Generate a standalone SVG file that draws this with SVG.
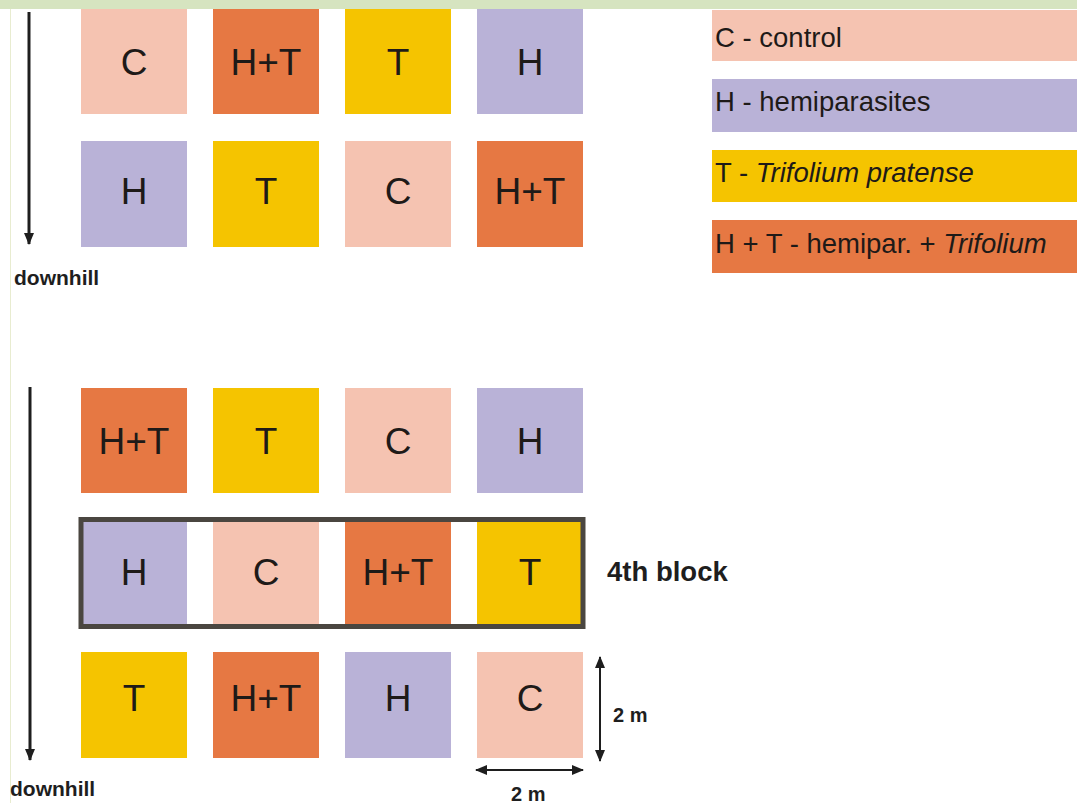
<svg xmlns="http://www.w3.org/2000/svg" width="1077" height="803" viewBox="0 0 1077 803">
<defs>
<style>
.c{fill:#f5c3b1}.h{fill:#b9b2d7}.t{fill:#f5c400}.ht{fill:#e67843}
.lbl{font-family:"Liberation Sans",Arial,sans-serif;font-size:37px;fill:#1e1a18;text-anchor:middle}
.leg{font-family:"Liberation Sans",Arial,sans-serif;font-size:27.5px;fill:#1e1a18}
.b{font-family:"Liberation Sans",Arial,sans-serif;font-weight:bold;fill:#1e1e1e}
.ln{stroke:#1e1e1e;stroke-width:3;fill:none}
</style>
<marker id="ah" viewBox="0 0 12 12" refX="11" refY="6" markerWidth="12" markerHeight="12" orient="auto-start-reverse" markerUnits="userSpaceOnUse">
<path d="M0,1 L12,6 L0,11 z" fill="#1e1e1e"/>
</marker>
</defs>
<rect width="1077" height="803" fill="#fff"/>
<rect x="0" y="0" width="1077" height="9" fill="#d6e4c0"/>
<line x1="10.5" y1="9" x2="10.5" y2="803" stroke="#e8ecd0" stroke-width="1"/>

<g id="top-row1">
<g id="t1-c"><rect class="c" x="81" y="9" width="106" height="105"/><text class="lbl" x="134" y="75">C</text></g>
<g id="t1-ht"><rect class="ht" x="213" y="9" width="106" height="105"/><text class="lbl" x="266" y="75">H+T</text></g>
<g id="t1-t"><rect class="t" x="345" y="9" width="106" height="105"/><text class="lbl" x="398" y="75">T</text></g>
<g id="t1-h"><rect class="h" x="477" y="9" width="106" height="105"/><text class="lbl" x="530" y="75">H</text></g>
</g>
<g id="top-row2">
<g id="t2-h"><rect class="h" x="81" y="141" width="106" height="106"/><text class="lbl" x="134" y="204">H</text></g>
<g id="t2-t"><rect class="t" x="213" y="141" width="106" height="106"/><text class="lbl" x="266" y="204">T</text></g>
<g id="t2-c"><rect class="c" x="345" y="141" width="106" height="106"/><text class="lbl" x="398" y="204">C</text></g>
<g id="t2-ht"><rect class="ht" x="477" y="141" width="106" height="106"/><text class="lbl" x="530" y="204">H+T</text></g>
</g>

<g id="bot-row1">
<g id="b1-ht"><rect class="ht" x="81" y="388" width="106" height="105"/><text class="lbl" x="134" y="454">H+T</text></g>
<g id="b1-t"><rect class="t" x="213" y="388" width="106" height="105"/><text class="lbl" x="266" y="454">T</text></g>
<g id="b1-c"><rect class="c" x="345" y="388" width="106" height="105"/><text class="lbl" x="398" y="454">C</text></g>
<g id="b1-h"><rect class="h" x="477" y="388" width="106" height="105"/><text class="lbl" x="530" y="454">H</text></g>
</g>
<g id="bot-row2">
<g id="b2-h"><rect class="h" x="81" y="520" width="106" height="105"/><text class="lbl" x="134" y="585">H</text></g>
<g id="b2-c"><rect class="c" x="213" y="520" width="106" height="105"/><text class="lbl" x="266" y="585">C</text></g>
<g id="b2-ht"><rect class="ht" x="345" y="520" width="106" height="105"/><text class="lbl" x="398" y="585">H+T</text></g>
<g id="b2-t"><rect class="t" x="477" y="520" width="106" height="105"/><text class="lbl" x="530" y="585">T</text></g>
</g>
<g id="fourth-block">
<rect x="81" y="519.5" width="502" height="107" fill="none" stroke="#4a4640" stroke-width="5"/>
<text class="b" x="607" y="581" font-size="27.5">4th block</text>
</g>
<g id="bot-row3">
<g id="b3-t"><rect class="t" x="81" y="652" width="106" height="106"/><text class="lbl" x="134" y="711">T</text></g>
<g id="b3-ht"><rect class="ht" x="213" y="652" width="106" height="106"/><text class="lbl" x="266" y="711">H+T</text></g>
<g id="b3-h"><rect class="h" x="345" y="652" width="106" height="106"/><text class="lbl" x="398" y="711">H</text></g>
<g id="b3-c"><rect class="c" x="477" y="652" width="106" height="106"/><text class="lbl" x="530" y="711">C</text></g>
</g>

<g id="legend">
<g id="leg-c"><rect class="c" x="712" y="10" width="365" height="51"/><text class="leg" x="715" y="47">C - control</text></g>
<g id="leg-h"><rect class="h" x="712" y="79" width="365" height="53"/><text class="leg" x="715" y="111">H - hemiparasites</text></g>
<g id="leg-t"><rect class="t" x="712" y="150" width="365" height="52"/><text class="leg" x="715" y="182">T - <tspan font-style="italic">Trifolium pratense</tspan></text></g>
<g id="leg-ht"><rect class="ht" x="712" y="220" width="365" height="53"/><text class="leg" x="715" y="253">H + T - hemipar. + <tspan font-style="italic">Trifolium</tspan></text></g>
</g>

<g id="connectors">
<line class="ln" x1="29" y1="12" x2="29" y2="244" marker-end="url(#ah)"/>
<line class="ln" x1="30" y1="387" x2="30" y2="760" marker-end="url(#ah)"/>
<line x1="600" y1="657" x2="600" y2="761" stroke="#1e1e1e" stroke-width="2" marker-start="url(#ah)" marker-end="url(#ah)"/>
<line x1="476" y1="770" x2="583" y2="770" stroke="#1e1e1e" stroke-width="2" marker-start="url(#ah)" marker-end="url(#ah)"/>
</g>

<g id="labels">
<text class="b" x="14" y="285" font-size="21">downhill</text>
<text class="b" x="10" y="796" font-size="21">downhill</text>
<text class="b" x="613" y="722" font-size="20">2 m</text>
<text class="b" x="511" y="801" font-size="20">2 m</text>
</g>
</svg>
